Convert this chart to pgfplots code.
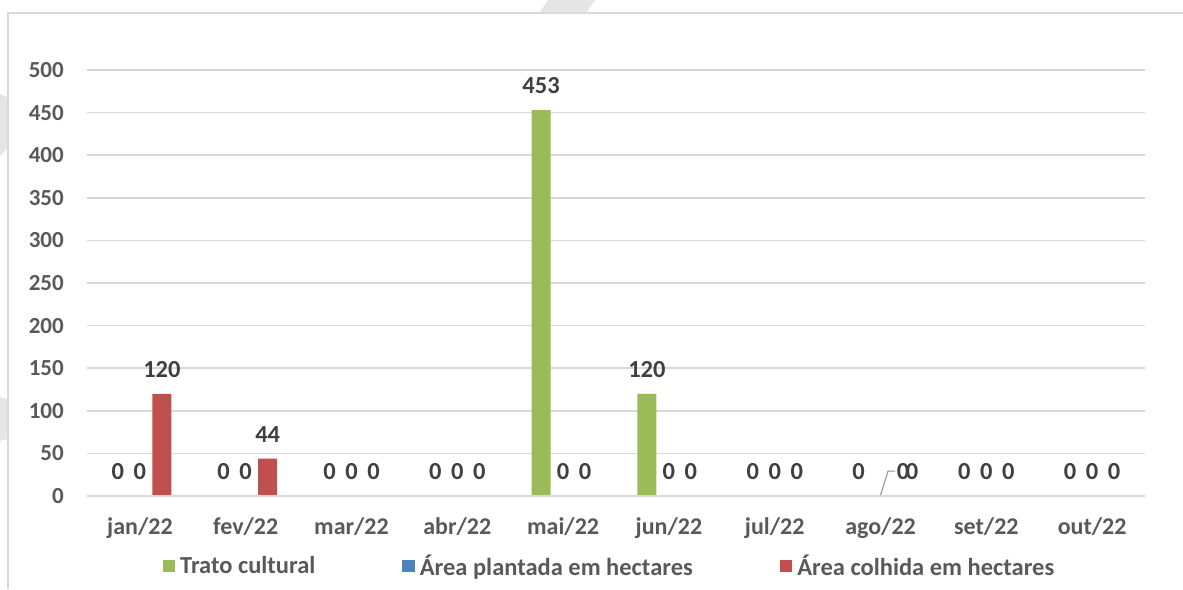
\documentclass[border=0pt]{standalone}
\usepackage{pgfplots}
\pgfplotsset{compat=1.18}
\usepackage{fontspec}
\setmainfont{Carlito}
\definecolor{verde}{HTML}{9BBB59}
\definecolor{azul}{HTML}{4F81BD}
\definecolor{vermelho}{HTML}{C0504D}
\definecolor{gridc}{HTML}{D9D9D9}
\definecolor{axc}{HTML}{595959}
\definecolor{lblc}{HTML}{404040}
\newcommand{\yfont}{\fontsize{23}{26}\selectfont\bfseries}
\newcommand{\xfont}{\fontsize{24}{27}\selectfont\bfseries}
\newcommand{\lblfont}{\fontsize{24.5}{27}\selectfont\bfseries}
\newcommand{\legfont}{\fontsize{24.5}{28}\selectfont\bfseries}

\begin{document}
\begin{tikzpicture}
\path[use as bounding box] (0pt,0pt) rectangle (1183pt,589pt);
% faint watermark shapes and frame
\fill[black!10] (540pt,577pt) -- (587pt,577pt) -- (595pt,589pt) -- (548pt,589pt) -- cycle;
\fill[black!10] (0pt,495pt) -- (7pt,492pt) -- (7pt,440pt) -- (0pt,433pt) -- cycle;
\fill[black!10] (0pt,192pt) -- (7pt,190pt) -- (7pt,150pt) -- (0pt,148pt) -- cycle;
\draw[gridc, line width=2pt] (8pt,0pt) -- (8pt,576pt) -- (1183pt,576pt);

\begin{axis}[
    at={(87pt,93pt)}, anchor=south west,
    scale only axis, width=1058pt, height=426pt,
    xmin=-0.5, xmax=9.5, ymin=0, ymax=500,
    xtick={0,...,9},
    xticklabels={jan/22,fev/22,mar/22,abr/22,mai/22,jun/22,jul/22,ago/22,set/22,out/22},
    ytick={0,50,...,500},
    major tick length=0pt,
    axis line style={draw=none},
    ymajorgrids, grid style={gridc, line width=1.6pt},
    /pgf/number format/assume math mode=true,
    tick label style={text=axc},
    yticklabel style={font=\yfont, anchor=east, inner sep=0pt, xshift=-23pt},
    xticklabel style={font=\xfont, anchor=base, inner sep=0pt, yshift=-39pt},
    ybar, bar width=0.18,
    nodes near coords, point meta=explicit symbolic,
    every node near coord/.append style={font=\lblfont, text=lblc, anchor=center, yshift=24pt},
    legend columns=3,
    legend style={at={(0.0713,-0.164)}, anchor=west, draw=none, fill=none,
        font=\legfont, text=axc, inner sep=0pt,
        nodes={inner sep=2pt},
        /tikz/every even column/.append style={column sep=85pt}},
    legend image code/.code={\fill[#1] (0pt,-6.3pt) rectangle (12.5pt,6.3pt);
        \path (0pt,0pt) -- (15.5pt,0pt);},
]
\addplot[fill=verde, draw=none, bar shift=-0.208] table[meta=lab] {
x y lab
0 0 0
1 0 0
2 0 0
3 0 0
4 453 453
5 120 120
6 0 0
7 0 0
8 0 0
9 0 0
};
\addlegendentry{Trato cultural}
\addplot[fill=azul, draw=none, bar shift=0] table[meta=lab] {
x y lab
0 0 0
1 0 0
2 0 0
3 0 0
4 0 0
5 0 0
6 0 0
7 0 {}
8 0 0
9 0 0
};
\addlegendentry{Área plantada em hectares}
\addplot[fill=vermelho, draw=none, bar shift=0.208] table[meta=lab] {
x y lab
0 120 120
1 44 44
2 0 0
3 0 0
4 0 0
5 0 0
6 0 0
7 0 {}
8 0 0
9 0 0
};
\addlegendentry{Área colhida em hectares}
% baseline drawn over the zero-height bars
\draw[gridc, line width=1.6pt] (axis cs:-0.5,0) -- (axis cs:9.5,0);
% moved labels for ago/22 with leader line
\draw[black!45, line width=1pt] (axis cs:7.0,1.2) -- (axis cs:7.071,29.3) -- (axis cs:7.137,29.3);
\node[font=\lblfont, text=lblc, anchor=center, yshift=24pt] at (axis cs:7.213,0) {0};
\node[font=\lblfont, text=lblc, anchor=center, yshift=24pt] at (axis cs:7.298,0) {0};
\end{axis}
\end{tikzpicture}
\end{document}
